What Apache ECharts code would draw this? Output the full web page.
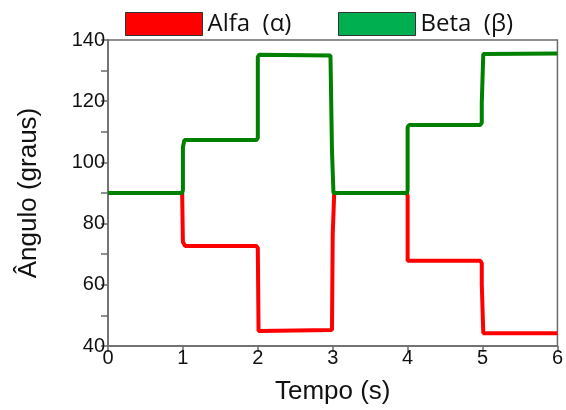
<!DOCTYPE html>
<html>
<head>
<meta charset="utf-8">
<script src="https://cdn.jsdelivr.net/npm/echarts@6/dist/echarts.min.js"></script>
<style>
  html, body { margin: 0; padding: 0; background: #fff; }
  #chart { width: 566px; height: 410px; }
</style>
</head>
<body>
<div id="chart"></div>
<script>
  // dados
  const alfaTime = [0, 0.99, 1.0, 1.03, 1.98, 2.0, 2.01, 2.99, 3.0, 3.0, 3.02, 3.02, 3.99, 4.0, 4.0, 4.97, 4.99, 4.99, 5.01, 5.01, 6.0]
  const alfaValue = [90, 90, 74, 72.7, 72.7, 72, 44.9, 45.2, 45.5, 76.5, 77, 90, 90, 89, 67.9, 67.9, 67, 60.2, 60, 44.2, 44.2]
  const betaTime = [0, 0.99, 1.0, 1.0, 1.02, 1.98, 2.0, 2.0, 2.02, 2.97, 2.99, 2.99, 3.01, 3.01, 3.99, 4.0, 4.0, 4.02, 4.97, 4.99, 4.99, 5.01, 5.01, 5.03, 6.0]
  const betaValue = [90, 90, 91, 105, 107.3, 107.3, 108, 134.5, 135.2, 134.9, 134.5, 103.8, 103.5, 90, 90, 91, 111.5, 112.2, 112.2, 113, 119.6, 120, 135.4, 135.6, 135.6]

  const axisColor = '#6b6b6b'
  const textColor = '#111'
  const arial = 'Liberation Sans'

  const zip = (xs, ys) => xs.map((x, i) => [x, ys[i]])

  const chart = echarts.init(document.getElementById('chart'))

  const legendText = { fontFamily: 'Open Sans', fontSize: 24, color: textColor }

  const option = {
    animation: false,
    backgroundColor: '#fff',
    textStyle: { fontFamily: arial },
    grid: {
      left: 108, right: 7, top: 40, bottom: 62,
      show: true, borderColor: axisColor, borderWidth: 1.5
    },
    legend: [
      {
        left: 125, top: 12, padding: 0,
        itemWidth: 77, itemHeight: 23,
        icon: 'rect',
        data: [{ name: 'Alfa  (α)', itemStyle: { color: '#ff0000', borderColor: '#333', borderWidth: 1 } }],
        textStyle: legendText,
        selectedMode: false
      },
      {
        left: 338, top: 12, padding: 0,
        itemWidth: 77, itemHeight: 23,
        icon: 'rect',
        data: [{ name: 'Beta  (β)', itemStyle: { color: '#00b050', borderColor: '#333', borderWidth: 1 } }],
        textStyle: legendText,
        selectedMode: false
      }
    ],
    xAxis: {
      type: 'value', min: 0, max: 6, interval: 1,
      name: 'Tempo (s)', nameLocation: 'middle', nameGap: 33,
      nameTextStyle: { fontFamily: arial, fontSize: 26, color: textColor },
      axisLine: { lineStyle: { color: axisColor, width: 1.5 } },
      axisTick: { length: 6, lineStyle: { color: axisColor, width: 1.5 } },
      axisLabel: { fontFamily: arial, fontSize: 20, color: textColor, margin: 2 },
      splitLine: { show: false }
    },
    yAxis: {
      type: 'value', min: 40, max: 140, interval: 20,
      name: 'Ângulo (graus)', nameLocation: 'middle', nameGap: 66,
      nameTextStyle: { fontFamily: arial, fontSize: 26, color: textColor },
      axisLine: { show: true, lineStyle: { color: axisColor, width: 1.5 } },
      axisTick: { show: true, length: 7, lineStyle: { color: axisColor, width: 1.5 } },
      minorTick: { show: true, splitNumber: 2, length: 7, lineStyle: { color: axisColor, width: 1.5 } },
      axisLabel: { fontFamily: arial, fontSize: 20, color: textColor, margin: 3 },
      splitLine: { show: false }
    },
    series: [
      {
        name: 'Alfa  (α)', type: 'line', showSymbol: false,
        data: zip(alfaTime, alfaValue),
        lineStyle: { color: '#ff0000', width: 4 },
        itemStyle: { color: '#ff0000' }
      },
      {
        name: 'Beta  (β)', type: 'line', showSymbol: false,
        data: zip(betaTime, betaValue),
        lineStyle: { color: '#008000', width: 4 },
        itemStyle: { color: '#00b050' }
      }
    ]
  }

  chart.setOption(option)
</script>
</body>
</html>
